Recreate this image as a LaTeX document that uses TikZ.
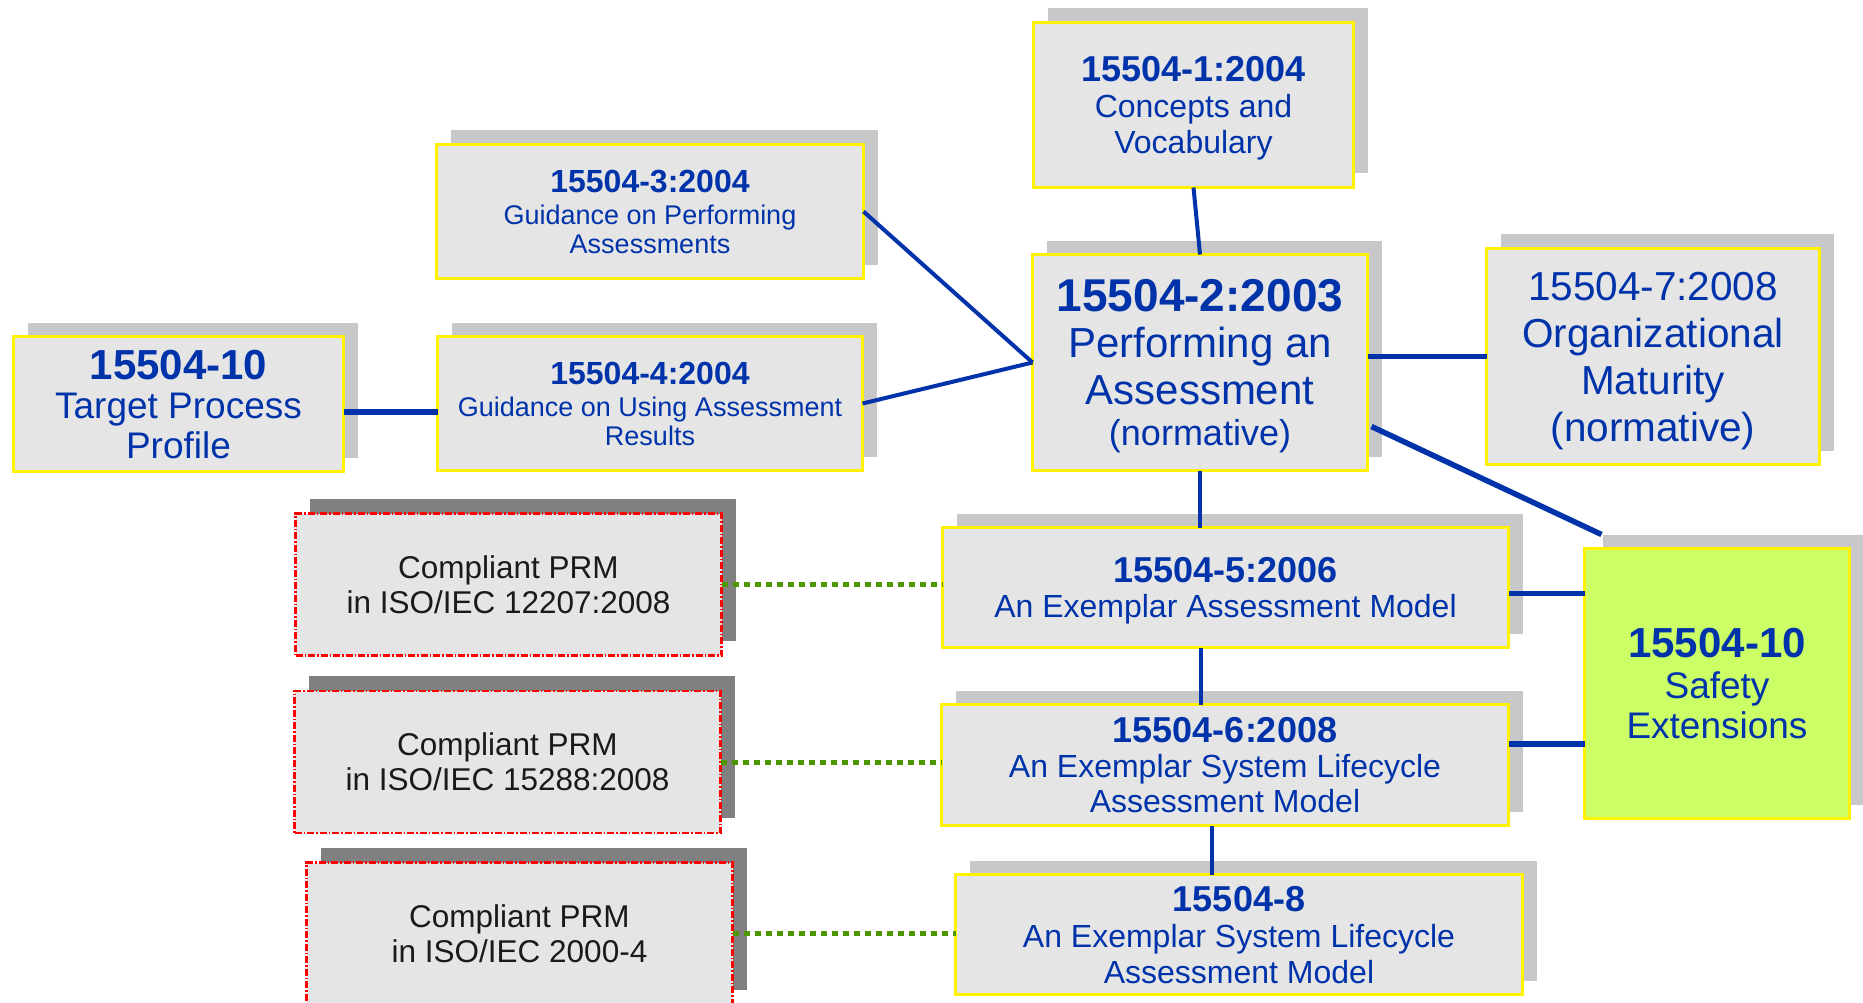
\documentclass[tikz,border=0pt]{standalone}
\usepackage{fontspec}
\setmainfont{Liberation Sans}
\usetikzlibrary{shadows,calc}
\definecolor{isoblue}{RGB}{0,51,170}
\definecolor{boxgray}{RGB}{229,229,229}
\definecolor{shadegray}{RGB}{200,200,200}
\definecolor{darkshade}{RGB}{128,128,128}
\definecolor{safegreen}{RGB}{204,255,102}
\definecolor{prmgreen}{RGB}{77,150,0}
\definecolor{prmtext}{RGB}{26,26,26}

\begin{document}
\begin{tikzpicture}[x=1pt,y=-1pt,
    isobox/.style={draw=yellow,line width=3pt,fill=boxgray,text=isoblue,
      align=center,inner sep=0pt,outer sep=0pt,text depth=0pt,
      general shadow={fill=shadegray,shadow xshift=#1,shadow yshift=14pt}},
    isobox/.default=14pt,
    prmbox/.style={draw=red,line width=2.2pt,dash pattern=on 7pt off 2pt on 1.5pt off 2pt,
      fill=boxgray,text=prmtext,align=center,inner sep=0pt,outer sep=0pt,text depth=0pt,
      minimum width=426pt,minimum height=142pt,font=\fontsize{31.5}{35}\selectfont,
      general shadow={fill=darkshade,shadow xshift=14pt,shadow yshift=15pt}},
    link/.style={draw=isoblue,line width=4pt},
    thicklink/.style={draw=isoblue,line width=5.5pt},
    prmlink/.style={draw=prmgreen,line width=5pt,dash pattern=on 6pt off 5pt}]
    \path[use as bounding box,fill=white] (0,0) rectangle (1863,1003);
    % ISO/IEC 15504 parts
    \node[isobox,minimum width=320pt,minimum height=165pt,font=\fontsize{32}{36}\selectfont]
      (part1) at (1193.5,105) {{\bfseries\fontsize{36}{36}\selectfont 15504-1:2004}\\Concepts and\\Vocabulary};
    \node[isobox,minimum width=335pt,minimum height=216pt,font=\fontsize{42}{46.5}\selectfont]
      (part2) at (1200,362.5) {{\bfseries\fontsize{46}{46}\selectfont 15504-2:2003}\\Performing an\\Assessment\\[-5pt]{\fontsize{36}{36}\selectfont (normative)}};
    \node[isobox,minimum width=427pt,minimum height=134pt,font=\fontsize{27}{28.5}\selectfont]
      (part3) at (650,211.5) {{\bfseries\fontsize{32}{32}\selectfont 15504-3:2004}\\[4pt]Guidance on Performing\\Assessments};
    \node[isobox,minimum width=425pt,minimum height=134pt,font=\fontsize{27}{28.5}\selectfont]
      (part4) at (650,403.5) {{\bfseries\fontsize{32}{32}\selectfont 15504-4:2004}\\[4pt]Guidance on Using Assessment\\Results};
    \node[isobox,minimum width=330pt,minimum height=135pt,font=\fontsize{37}{39.5}\selectfont]
      (tpp) at (178.5,404) {{\bfseries\fontsize{42}{42}\selectfont 15504-10}\\Target Process\\Profile};
    \node[isobox,minimum width=333pt,minimum height=216pt,font=\fontsize{40.5}{47}\selectfont]
      (part7) at (1653,356.5) {15504-7:2008\\Organizational\\Maturity\\(normative)};
    \node[isobox,minimum width=566pt,minimum height=120pt,font=\fontsize{32}{35}\selectfont]
      (part5) at (1225.5,587.5) {{\bfseries\fontsize{36}{36}\selectfont 15504-5:2006}\\An Exemplar Assessment Model};
    \node[isobox,minimum width=567pt,minimum height=121pt,font=\fontsize{32}{35}\selectfont]
      (part6) at (1225,765) {{\bfseries\fontsize{36}{36}\selectfont 15504-6:2008}\\An Exemplar System Lifecycle\\Assessment Model};
    \node[isobox,minimum width=567pt,minimum height=120pt,font=\fontsize{32}{36}\selectfont]
      (part8) at (1239,934.5) {{\bfseries\fontsize{36}{36}\selectfont 15504-8}\\An Exemplar System Lifecycle\\Assessment Model};
    \node[isobox=18pt,fill=safegreen,minimum width=265pt,minimum height=270pt,font=\fontsize{37}{40.5}\selectfont]
      (safety) at (1717,683.5) {{\bfseries\fontsize{42}{42}\selectfont 15504-10}\\Safety\\Extensions};
    % compliant process reference models
    \node[prmbox] (prm1) at (508.5,584.5) {Compliant PRM\\in ISO/IEC 12207:2008};
    \node[prmbox] (prm2) at (507.5,762) {Compliant PRM\\in ISO/IEC 15288:2008};
    \node[prmbox] (prm3) at (519.5,933.5) {Compliant PRM\\in ISO/IEC 2000-4};
    % connectors
    \draw[link] (part1.south) -- (part2.north);
    \draw[link] (part3.east) -- (part2.west);
    \draw[link] (part4.east) -- (part2.west);
    \draw[thicklink] ([yshift=-8pt]tpp.east) -- ([yshift=-8pt]tpp.east -| part4.west);
    \draw[thicklink] (part7.west -| part2.east) -- (part7.west);
    \draw[thicklink] ([xshift=4pt,yshift=-64pt]part2.east) -- ([xshift=17pt,yshift=14pt]safety.north west);
    \draw[link] (part2.south) -- (part2.south |- part5.north);
    \draw[link] ([xshift=-25pt]part5.south) -- ([xshift=-25pt]part5.south |- part6.north);
    \draw[link] ([xshift=-13pt]part6.south) -- ([xshift=-13pt]part6.south |- part8.north);
    \draw[thicklink] ([yshift=-6pt]part5.east) -- ([yshift=-6pt]part5.east -| safety.west);
    \draw[thicklink] ([yshift=21pt]part6.east) -- ([yshift=21pt]part6.east -| safety.west);
    \draw[prmlink] (prm1.east) -- (prm1.east -| part5.west);
    \draw[prmlink] (prm2.east) -- (prm2.east -| part6.west);
    \draw[prmlink] (prm3.east) -- (prm3.east -| part8.west);
\end{tikzpicture}
\end{document}
